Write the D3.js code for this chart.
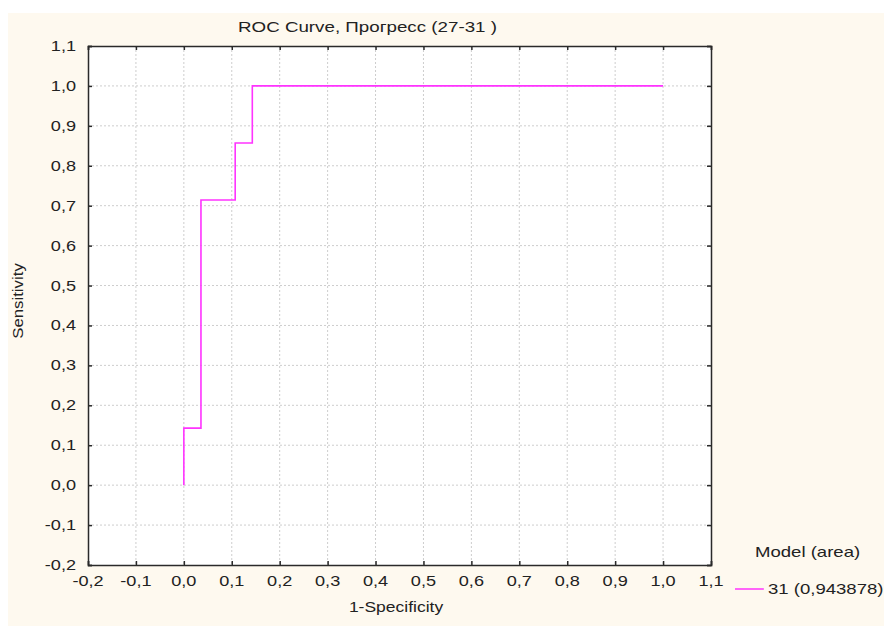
<!DOCTYPE html>
<html><head><meta charset="utf-8">
<script src="https://cdn.jsdelivr.net/npm/d3@7"></script>
<style>body{margin:0;background:#fff;}svg{display:block;font-family:"Liberation Sans",Arial,sans-serif;}</style>
</head><body>
<script>
const fpr = [0, 0, 1/28, 1/28, 3/28, 3/28, 4/28, 4/28, 1.0];
const tpr = [0, 1/7, 1/7, 5/7, 5/7, 6/7, 6/7, 1.0, 1.0];
const tickValues = [-0.2,-0.1,0.0,0.1,0.2,0.3,0.4,0.5,0.6,0.7,0.8,0.9,1.0,1.1];
const titleText = "ROC Curve, Прогресс (27-31 )";
const xLabel = "1-Specificity";
const yLabel = "Sensitivity";
const legendTitle = "Model (area)";
const seriesName = "31 (0,943878)";

const W = 884, H = 626;
const m = {l:88, t:46, r:711, b:565};
const sx = 1.25;
const svg = d3.select("body").append("svg").attr("width",W).attr("height",H);
svg.append("rect").attr("x",8).attr("y",13).attr("width",W-8).attr("height",H-13).attr("fill","#fef9ef");
svg.append("rect").attr("x",m.l).attr("y",m.t).attr("width",m.r-m.l).attr("height",m.b-m.t).attr("fill","#fff");

const x = d3.scaleLinear().domain([-0.2,1.1]).range([m.l,m.r]);
const y = d3.scaleLinear().domain([-0.2,1.1]).range([m.b,m.t]);
const fmt = v => d3.format(".1f")(v).replace(".",",").replace("−","-");

// grid
const inner = tickValues.slice(1,-1);
svg.append("g").selectAll("line").data(inner).join("line")
  .attr("x1",d=>x(d)).attr("x2",d=>x(d)).attr("y1",m.t).attr("y2",m.b)
  .attr("stroke","#cdcdcd").attr("stroke-width",1).attr("stroke-dasharray","2,2");
svg.append("g").selectAll("line").data(inner).join("line")
  .attr("y1",d=>y(d)).attr("y2",d=>y(d)).attr("x1",m.l).attr("x2",m.r)
  .attr("stroke","#cdcdcd").attr("stroke-width",1).attr("stroke-dasharray","2,2");

// axes with inward ticks
const axB = d3.axisBottom(x).tickValues(tickValues).tickSize(-4).tickFormat("");
const axT = d3.axisTop(x).tickValues(tickValues).tickSize(-4).tickFormat("");
const axL = d3.axisLeft(y).tickValues(tickValues).tickSize(-4).tickFormat("");
const axR = d3.axisRight(y).tickValues(tickValues).tickSize(-4).tickFormat("");
[[axB,`translate(0,${m.b})`],[axT,`translate(0,${m.t})`],[axL,`translate(${m.l},0)`],[axR,`translate(${m.r},0)`]].forEach(([a,t])=>{
  const g = svg.append("g").attr("transform",t).call(a);
  g.select(".domain").attr("stroke","#2a2a2a").attr("stroke-width",1.5);
  g.selectAll(".tick line").attr("stroke","#2a2a2a").attr("stroke-width",1.5);
});

const txt = (s,px,py,anchor,size,scale) => {
  return svg.append("text").text(s).attr("font-size",size).attr("fill","#222")
    .attr("text-anchor",anchor)
    .attr("transform",`translate(${px},${py}) scale(${scale||sx},1)`);
};
tickValues.forEach(v=>{
  txt(fmt(v), x(v), 586, "middle", 14.5);
  txt(fmt(v), 76, y(v)+5, "end", 14.5);
});
txt(titleText, 238, 32, "start", 14, 1.34);
txt(xLabel, 396, 612, "middle", 14);
svg.append("text").text(yLabel).attr("font-size",14).attr("fill","#222").attr("text-anchor","middle")
  .attr("transform",`translate(23,301) rotate(-90) scale(1.2,1)`);

// curve
const line = d3.line().x(d=>x(d[0])).y(d=>y(d[1]));
svg.append("path").datum(fpr.map((f,i)=>[f,tpr[i]])).attr("d",line)
  .attr("fill","none").attr("stroke","#ff33ff").attr("stroke-width",1.6);

// legend
txt(legendTitle, 755, 557, "start", 14.5, 1.28);
svg.append("line").attr("x1",735).attr("x2",764).attr("y1",589).attr("y2",589).attr("stroke","#ff00ff").attr("stroke-width",1.2);
txt(seriesName, 768, 594, "start", 14.5, 1.28);
</script>
</body></html>
